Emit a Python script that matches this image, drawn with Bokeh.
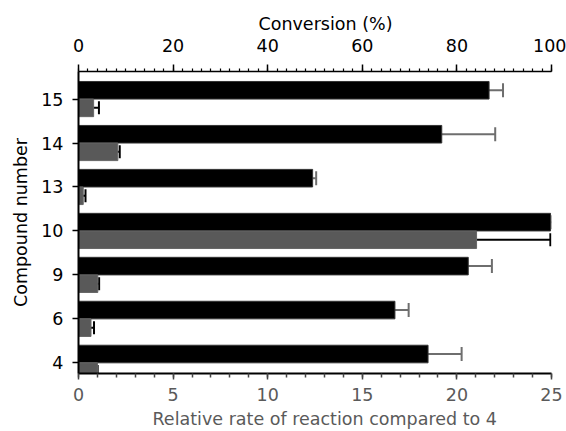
from bokeh.plotting import figure
from bokeh.models import (ColumnDataSource, Range1d, LinearAxis, SingleIntervalTicker,
                          FixedTicker, Whisker, TeeHead, Title)
from bokeh.embed import file_html
from bokeh.resources import INLINE

compounds = ["4", "6", "9", "10", "13", "14", "15"]
conversion = [73.9, 66.9, 82.4, 99.8, 49.5, 76.8, 86.8]
conversion_err = [7.1, 2.9, 5.0, 0.2, 0.75, 11.3, 2.95]
rel_rate = [1.0, 0.66, 1.02, 21.04, 0.25, 2.08, 0.8]
rel_rate_err = [0.0, 0.16, 0.07, 3.9, 0.12, 0.1, 0.28]

top_title = "Conversion (%)"
bottom_title = "Relative rate of reaction compared to 4"
left_title = "Compound number"

BAR_H = 0.4
ypos = list(range(len(compounds)))

black_src = ColumnDataSource(dict(
    y=[v + BAR_H / 2 for v in ypos], x=conversion,
    lo=[c - e for c, e in zip(conversion, conversion_err)],
    hi=[c + e for c, e in zip(conversion, conversion_err)]))
gray_src = ColumnDataSource(dict(
    y=[v - BAR_H / 2 for v in ypos], x=rel_rate,
    lo=[r - e for r, e in zip(rel_rate, rel_rate_err)],
    hi=[r + e for r, e in zip(rel_rate, rel_rate_err)]))

FONT = "DejaVu Sans"
FS = "17.5px"

p = figure(width=566, height=431, output_backend="svg", toolbar_location=None,
           x_range=Range1d(0, 25), y_range=Range1d(-0.243, 6.627),
           min_border_left=78, min_border_right=15, min_border_top=71, min_border_bottom=58)
p.extra_x_ranges = {"conv": Range1d(0, 100)}
p.outline_line_color = None
p.xgrid.visible = False
p.ygrid.visible = False
p.background_fill_color = "white"

p.hbar(y="y", right="x", left=0, height=BAR_H, source=black_src, x_range_name="conv",
       fill_color="black", line_color="#333333", line_width=1)
p.hbar(y="y", right="x", left=0, height=BAR_H, source=gray_src,
       fill_color="#595959", line_color="#666666", line_width=1)

wb = Whisker(base="y", lower="lo", upper="hi", dimension="width", source=black_src,
             x_range_name="conv", line_color="#6e6e6e", line_width=2,
             upper_head=TeeHead(size=14, line_color="#6e6e6e", line_width=2),
             lower_head=TeeHead(size=14, line_color="#6e6e6e", line_width=2))
wg = Whisker(base="y", lower="lo", upper="hi", dimension="width", source=gray_src,
             line_color="black", line_width=2,
             upper_head=TeeHead(size=13, line_color="black", line_width=2),
             lower_head=TeeHead(size=13, line_color="black", line_width=2))
p.add_layout(wb)
p.add_layout(wg)

# bottom axis
xa = p.xaxis[0]
xa.ticker = SingleIntervalTicker(interval=5, num_minor_ticks=5)
xa.major_label_text_font = FONT
xa.major_label_text_font_size = FS
xa.major_label_text_color = "#5a5a5a"
xa.major_label_standoff = 8
xa.axis_line_color = "black"
xa.axis_line_width = 2
xa.major_tick_in = 0
xa.major_tick_out = 6
xa.minor_tick_in = 0
xa.minor_tick_out = 4
xa.major_tick_line_color = "#444444"
xa.minor_tick_line_color = "#444444"
xa.major_tick_line_width = 1.5
xa.minor_tick_line_width = 1.5

# top axis
ta = LinearAxis(x_range_name="conv",
                ticker=SingleIntervalTicker(interval=20, num_minor_ticks=10))
ta.major_label_text_font = FONT
ta.major_label_text_font_size = FS
ta.major_label_text_color = "black"
ta.major_label_standoff = 13
ta.axis_line_color = "black"
ta.axis_line_width = 1.5
ta.major_tick_in = 0
ta.major_tick_out = 7
ta.minor_tick_in = 0
ta.minor_tick_out = 3
ta.major_tick_line_width = 1.5
ta.minor_tick_line_width = 1.2
p.add_layout(ta, "above")

# axis titles, placed as in the source figure
p.add_layout(Title(text=top_title, align="left", offset=180, standoff=4,
                   text_font=FONT, text_font_size=FS, text_font_style="normal",
                   text_color="black"), "above")
p.add_layout(Title(text=bottom_title, align="left", offset=74, standoff=6,
                   text_font=FONT, text_font_size=FS, text_font_style="normal",
                   text_color="#5a5a5a"), "below")

# left axis
ya = p.yaxis[0]
ya.ticker = FixedTicker(ticks=ypos)
ya.major_label_overrides = {i: c for i, c in zip(ypos, compounds)}
ya.axis_label = left_title
ya.axis_label_text_font = FONT
ya.axis_label_text_font_size = FS
ya.axis_label_text_font_style = "normal"
ya.axis_label_text_color = "black"
ya.axis_label_standoff = 7
ya.major_label_text_font = FONT
ya.major_label_text_font_size = FS
ya.major_label_text_color = "black"
ya.major_label_standoff = 9
ya.axis_line_color = "black"
ya.axis_line_width = 2
ya.major_tick_in = 0
ya.major_tick_out = 6
ya.major_tick_line_width = 1.5
ya.minor_tick_line_color = None

open("out.html", "w").write(file_html(p, INLINE))
